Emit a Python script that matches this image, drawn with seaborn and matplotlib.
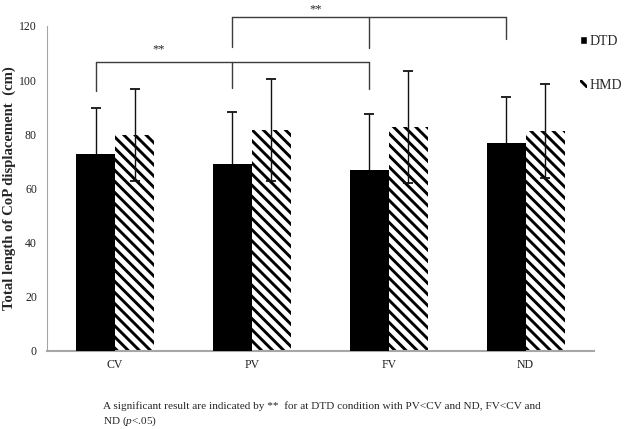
"""Total length of CoP displacement by condition, DTD vs HMD."""

import pandas as pd
import matplotlib.pyplot as plt
from matplotlib.patches import Patch
import seaborn as sns

conditions = ['CV', 'PV', 'FV', 'ND']
groups = ['DTD', 'HMD']
dtd_mean = [72.8, 69.1, 66.8, 76.6]
hmd_mean = [79.7, 81.5, 82.7, 81.1]
dtd_sd = [16.9, 19.0, 20.8, 17.3]
hmd_sd = [16.9, 18.9, 20.8, 17.3]

# significance brackets: (condition indices, bar height, leg bottoms)
brackets = [
	([0, 1, 2], 106.8, [96.1, 97.1, 96.7]),
	([1, 2, 3], 123.3, [112.3, 111.9, 115.2]),
]
star_pos = [(0.315, 110.2), (1.464, 125.0)]

caption_1 = 'A significant result are indicated by **  for at DTD condition with PV<CV and ND, FV<CV and'
caption_2 = r'ND ($\mathit{p}$<.05)'

if __name__ == '__main__':

	df = pd.DataFrame({
		'condition': conditions * 2,
		'group': ['DTD'] * 4 + ['HMD'] * 4,
		'value': dtd_mean + hmd_mean,
	})

	sns.set_style('white')
	plt.rcParams['font.family'] = ['Liberation Serif', 'DejaVu Serif']
	plt.rcParams['mathtext.fontset'] = 'custom'
	plt.rcParams['mathtext.rm'] = 'Liberation Serif'
	plt.rcParams['mathtext.it'] = 'Liberation Serif:italic'
	plt.rcParams['hatch.linewidth'] = 2.1
	plt.rcParams['hatch.color'] = 'black'

	fig = plt.figure(figsize=(6.25, 4.29), dpi=100)
	ax = fig.add_axes([46.7 / 625, 1 - 350.5 / 429, (594 - 46.7) / 625, (350.5 - 26) / 429])

	sns.barplot(
		data=df, x='condition', y='value', hue='group',
		order=conditions, hue_order=groups,
		palette={'DTD': 'black', 'HMD': 'white'},
		width=0.57, saturation=1, errorbar=None, legend=False,
		linewidth=0, ax=ax,
	)

	# Hatch the HMD bars and add error bars at the bar centres
	# (DTD error bars sit behind the black bars, as in the original)
	bar_sets = list(ax.containers)[:2]
	for p in bar_sets[0]:
		p.set_zorder(3)
	sds = [dtd_sd, hmd_sd]
	err_z = [2, 5]
	centres = []
	for k, cont in enumerate(bar_sets):
		xs = [p.get_x() + p.get_width() / 2 for p in cont]
		hs = [p.get_height() for p in cont]
		centres.append(xs)
		if k == 1:
			for p in cont:
				p.set_hatch('\\\\\\')
				p.set_edgecolor('black')
				p.set_linewidth(0)
		ax.errorbar(xs, hs, yerr=sds[k], fmt='none', ecolor='#111111',
			elinewidth=1, capsize=3.5, capthick=1.3, zorder=err_z[k])

	# Significance brackets over the DTD bars
	for idx, top, bottoms in brackets:
		xs = [centres[0][i] for i in idx]
		ax.plot([xs[0], xs[-1]], [top, top], color='#3c3c3c', lw=1, clip_on=False)
		for x, b in zip(xs, bottoms):
			ax.plot([x, x], [b, top], color='#3c3c3c', lw=1, clip_on=False)
	for x, y in star_pos:
		ax.text(x, y, '**', ha='center', va='baseline', fontsize=9, clip_on=False)

	ax.set_xlim(-0.5, 3.5)
	ax.set_ylim(0, 120)
	ax.set_yticks(range(0, 121, 20))
	ax.set_xlabel('')
	ax.set_ylabel('Total length of CoP displacement  (cm)', fontsize=10.6, fontweight='bold')
	ax.yaxis.set_label_coords(-0.056, 0.5)
	ax.tick_params(axis='both', length=0, labelsize=8.5, colors='#222222')
	ax.tick_params(axis='y', pad=7)
	ax.tick_params(axis='x', pad=6)

	sns.despine(ax=ax)
	ax.spines['left'].set_color('#a6a6a6')
	ax.spines['left'].set_linewidth(0.8)
	ax.spines['bottom'].set_color('#a6a6a6')
	ax.spines['bottom'].set_linewidth(1.5)

	handles = [Patch(facecolor='black'), Patch(facecolor='white', hatch='\\\\\\', edgecolor='black', linewidth=0)]
	fig.legend(handles, groups, loc='upper left', bbox_to_anchor=(580 / 625, 1 - 35 / 429),
		frameon=False, fontsize=10, handlelength=0.5, handleheight=0.5,
		handletextpad=0.2, labelspacing=2.2, borderpad=0, borderaxespad=0)

	fig.text(103 / 625, 1 - 406 / 429, caption_1, fontsize=8.1, va='center')
	fig.text(103 / 625, 1 - 421 / 429, caption_2, fontsize=8.1, va='center')

	plt.savefig('out.png', dpi=100)
	plt.close()
